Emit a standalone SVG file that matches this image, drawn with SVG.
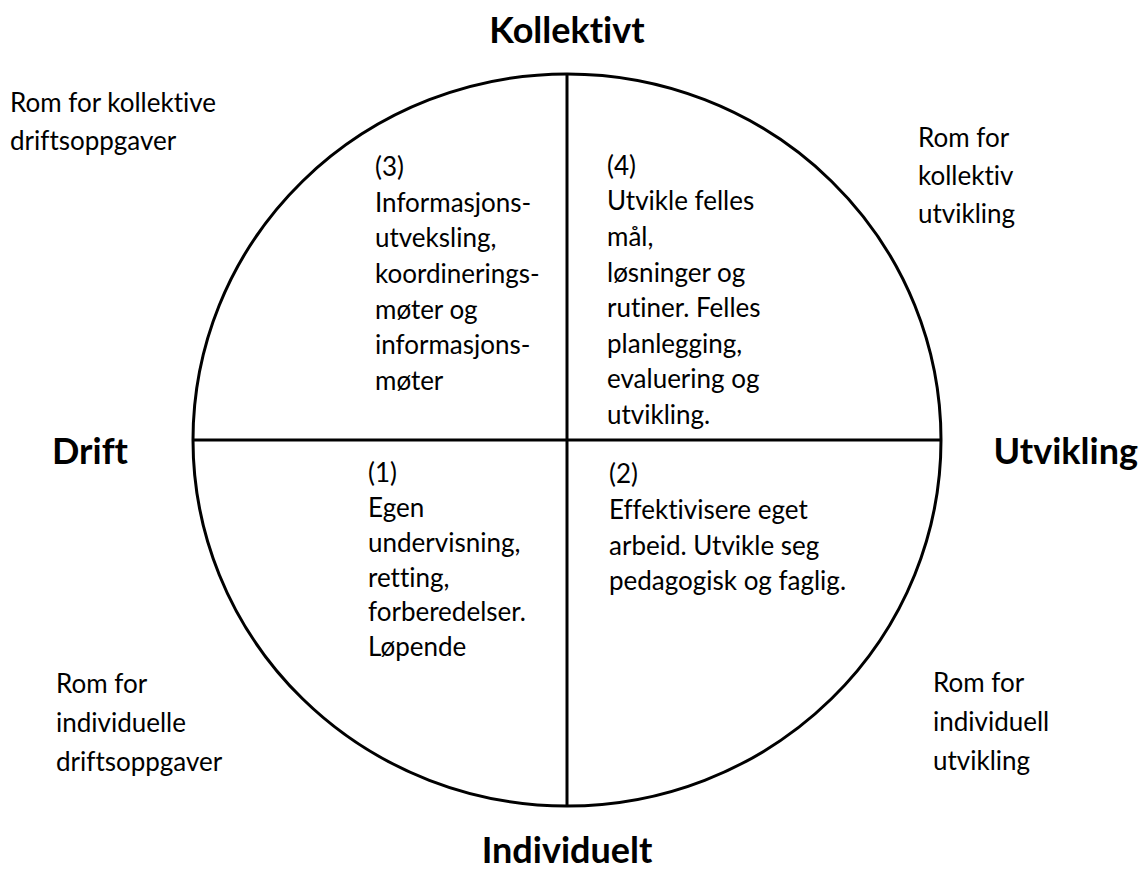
<svg xmlns="http://www.w3.org/2000/svg" width="1142" height="883" viewBox="0 0 1142 883">
<style>
text { font-family: Lato, "Open Sans", sans-serif; fill: #000; font-variant-ligatures: none; font-feature-settings: "liga" 0, "clig" 0; }
.t { font-size: 26px; }
.h { font-size: 36px; font-weight: bold; }
.ln { stroke: #000; stroke-width: 3; fill: none; }
</style>
<rect width="1142" height="883" fill="#fff"/>
<g id="connectors">
  <ellipse class="ln" cx="567" cy="440" rx="374" ry="366"/>
  <line class="ln" x1="567" y1="74" x2="567" y2="806"/>
  <line class="ln" x1="193" y1="440" x2="941" y2="440"/>
</g>
<g id="title-kollektivt"><text class="h" x="567" y="43" text-anchor="middle">Kollektivt</text></g>
<g id="title-individuelt"><text class="h" x="567" y="863" text-anchor="middle">Individuelt</text></g>
<g id="title-drift"><text class="h" x="52" y="464">Drift</text></g>
<g id="title-utvikling"><text class="h" x="1138" y="464" text-anchor="end">Utvikling</text></g>
<g id="corner-tl"><text class="t" x="10" y="112">Rom for kollektive</text><text class="t" x="10" y="150">driftsoppgaver</text></g>
<g id="corner-tr"><text class="t" x="918" y="147">Rom for</text><text class="t" x="918" y="185">kollektiv</text><text class="t" x="918" y="223">utvikling</text></g>
<g id="corner-bl"><text class="t" x="56" y="693">Rom for</text><text class="t" x="56" y="732">individuelle</text><text class="t" x="56" y="771">driftsoppgaver</text></g>
<g id="corner-br"><text class="t" x="933" y="692">Rom for</text><text class="t" x="933" y="731">individuell</text><text class="t" x="933" y="770">utvikling</text></g>
<g id="q3"><text class="t" x="375"><tspan x="375" y="176">(3)</tspan><tspan x="375" y="212">Informasjons-</tspan><tspan x="375" y="247">utveksling,</tspan><tspan x="375" y="283">koordinerings-</tspan><tspan x="375" y="319">møter og</tspan><tspan x="375" y="354">informasjons-</tspan><tspan x="375" y="390">møter</tspan></text></g>
<g id="q4"><text class="t" x="607"><tspan x="607" y="175">(4)</tspan><tspan x="607" y="210">Utvikle felles</tspan><tspan x="607" y="246">mål,</tspan><tspan x="607" y="282">løsninger og</tspan><tspan x="607" y="317">rutiner. Felles</tspan><tspan x="607" y="353">planlegging,</tspan><tspan x="607" y="388">evaluering og</tspan><tspan x="607" y="424">utvikling.</tspan></text></g>
<g id="q1"><text class="t" x="368"><tspan x="368" y="482">(1)</tspan><tspan x="368" y="517">Egen</tspan><tspan x="368" y="552">undervisning,</tspan><tspan x="368" y="587">retting,</tspan><tspan x="368" y="621">forberedelser.</tspan><tspan x="368" y="656">Løpende</tspan></text></g>
<g id="q2"><text class="t" x="609"><tspan x="609" y="483">(2)</tspan><tspan x="609" y="519">Effektivisere eget</tspan><tspan x="609" y="555">arbeid. Utvikle seg</tspan><tspan x="609" y="590">pedagogisk og faglig.</tspan></text></g>
</svg>
